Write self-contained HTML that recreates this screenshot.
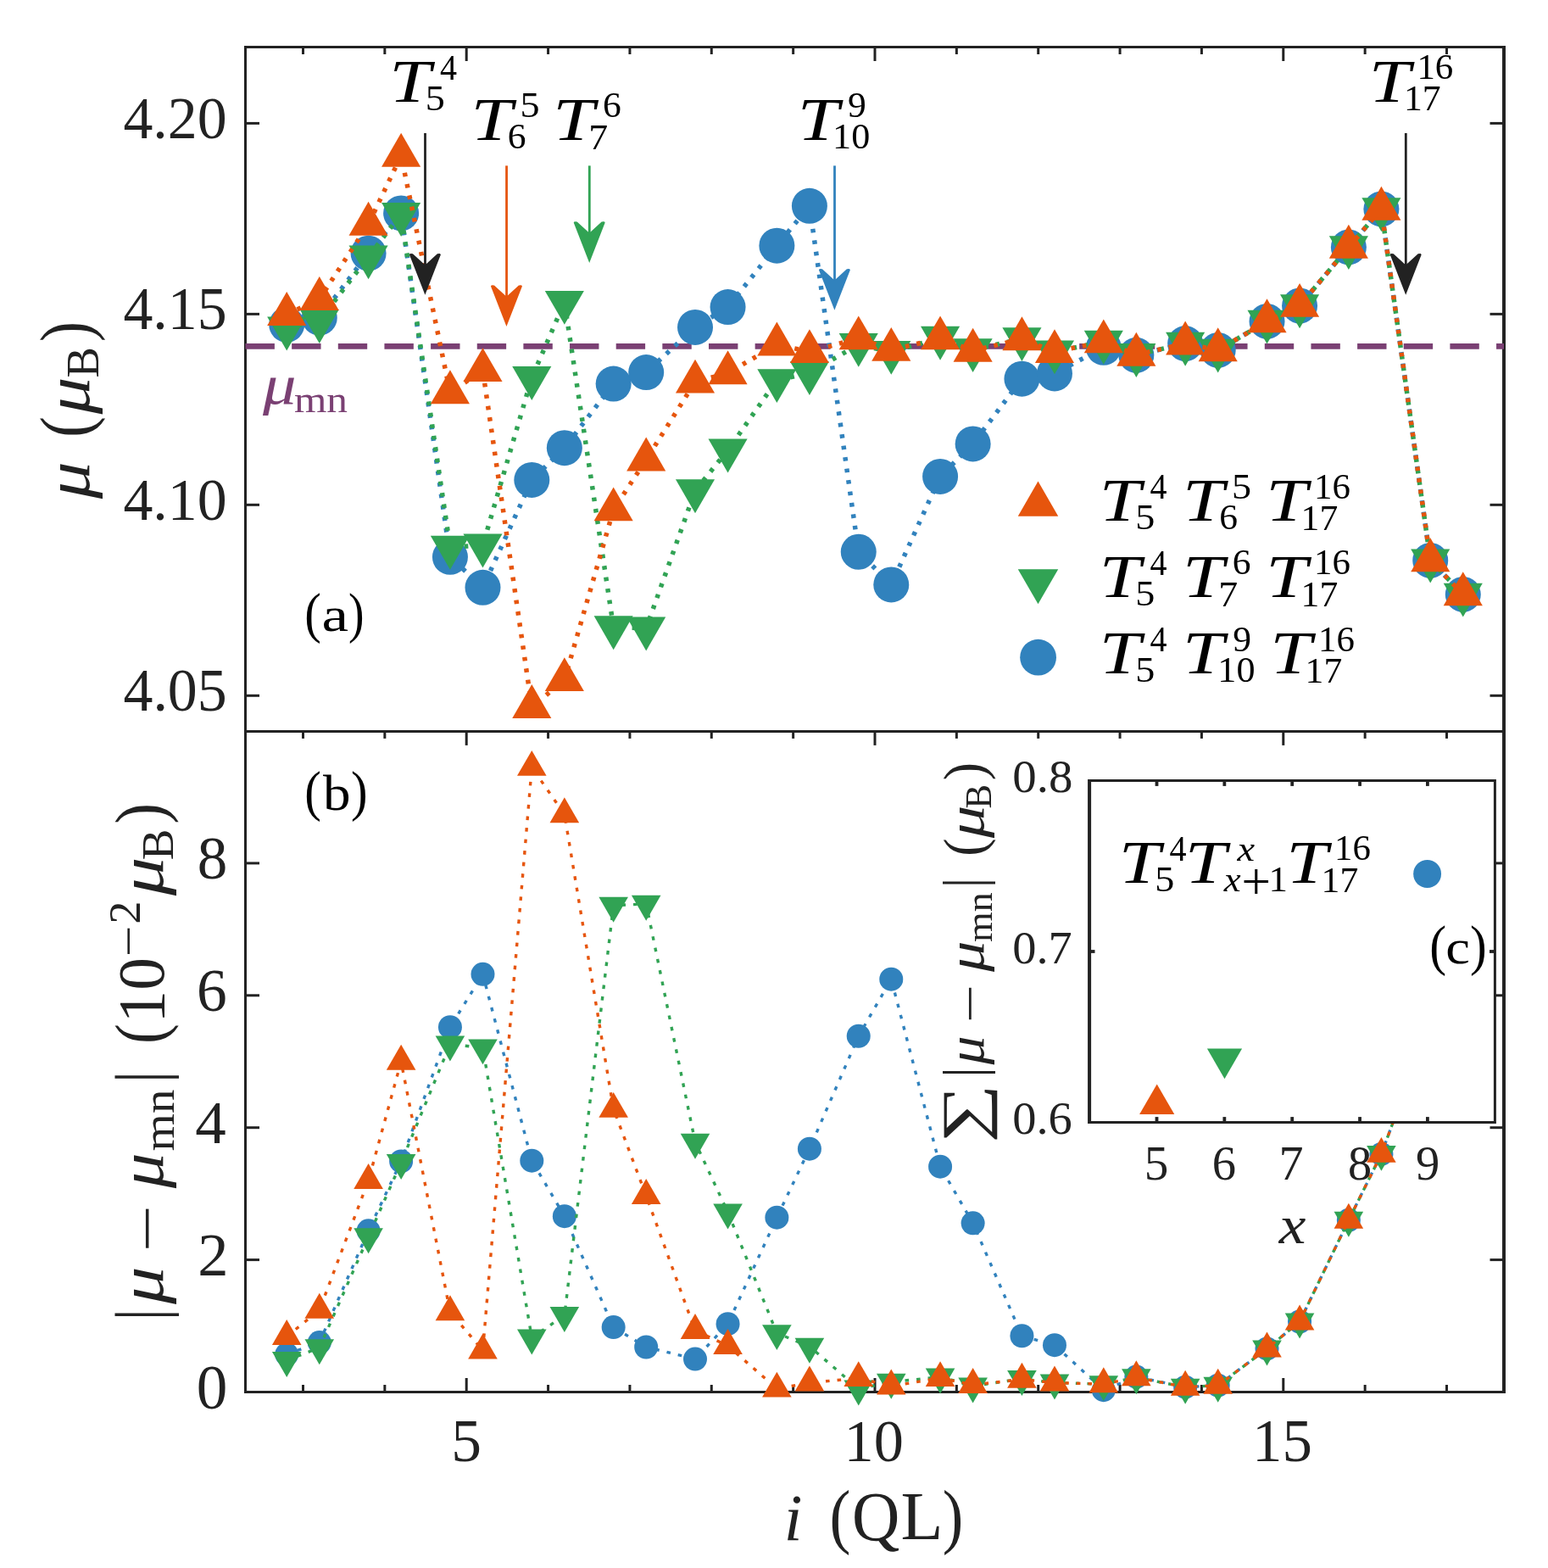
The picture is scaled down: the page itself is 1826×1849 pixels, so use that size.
<!DOCTYPE html>
<html lang="en"><head><meta charset="utf-8"><title>Magnetic moment profiles</title>
<style>html,body{margin:0;padding:0;background:#fff}svg{display:block}</style></head>
<body>
<svg width="1826" height="1849" viewBox="0 0 1826 1849" font-family="'Liberation Serif', 'DejaVu Serif', serif" style="font-kerning:none">
<rect width="1826" height="1849" fill="#ffffff"/>
<text transform="translate(1349.66 1390.74) scale(1.0000 1)" font-size="57.18" fill="#222222">5</text>
<text transform="translate(1429.84 1390.75) scale(1.0000 1)" font-size="56.56" fill="#222222">6</text>
<text transform="translate(1508.61 1391.30) scale(1.0000 1)" font-size="58.03" fill="#222222">7</text>
<text transform="translate(1589.97 1390.75) scale(1.0000 1)" font-size="56.31" fill="#222222">8</text>
<text transform="translate(1670.01 1390.75) scale(1.0000 1)" font-size="56.56" fill="#222222">9</text>
<text transform="translate(1194.23 934.41) scale(1.0198 1)" font-size="55.80" fill="#222222">0.8</text>
<text transform="translate(1194.25 1135.91) scale(1.0118 1)" font-size="55.80" fill="#222222">0.7</text>
<text transform="translate(1194.25 1337.41) scale(1.0127 1)" font-size="55.80" fill="#222222">0.6</text>
<path d="M1774.0 55.5 H289.5 V1641.5 H1774.0" fill="none" stroke="#222222" stroke-width="3" stroke-linecap="square"/>
<line x1="289.50" y1="862.40" x2="1774.00" y2="862.40" stroke="#222222" stroke-width="3"/>
<line x1="1774.00" y1="54.00" x2="1774.00" y2="1643.00" stroke="#222222" stroke-width="4"/>
<line x1="357.50" y1="55.50" x2="357.50" y2="64.00" stroke="#222222" stroke-width="3"/>
<line x1="357.50" y1="862.40" x2="357.50" y2="870.90" stroke="#222222" stroke-width="3"/>
<line x1="357.50" y1="1641.50" x2="357.50" y2="1633.00" stroke="#222222" stroke-width="3"/>
<line x1="453.86" y1="55.50" x2="453.86" y2="64.00" stroke="#222222" stroke-width="3"/>
<line x1="453.86" y1="862.40" x2="453.86" y2="870.90" stroke="#222222" stroke-width="3"/>
<line x1="453.86" y1="1641.50" x2="453.86" y2="1633.00" stroke="#222222" stroke-width="3"/>
<line x1="550.21" y1="55.50" x2="550.21" y2="72.00" stroke="#222222" stroke-width="3"/>
<line x1="550.21" y1="862.40" x2="550.21" y2="878.90" stroke="#222222" stroke-width="3"/>
<line x1="550.21" y1="1641.50" x2="550.21" y2="1625.00" stroke="#222222" stroke-width="3"/>
<line x1="646.57" y1="55.50" x2="646.57" y2="64.00" stroke="#222222" stroke-width="3"/>
<line x1="646.57" y1="862.40" x2="646.57" y2="870.90" stroke="#222222" stroke-width="3"/>
<line x1="646.57" y1="1641.50" x2="646.57" y2="1633.00" stroke="#222222" stroke-width="3"/>
<line x1="742.93" y1="55.50" x2="742.93" y2="64.00" stroke="#222222" stroke-width="3"/>
<line x1="742.93" y1="862.40" x2="742.93" y2="870.90" stroke="#222222" stroke-width="3"/>
<line x1="742.93" y1="1641.50" x2="742.93" y2="1633.00" stroke="#222222" stroke-width="3"/>
<line x1="839.28" y1="55.50" x2="839.28" y2="64.00" stroke="#222222" stroke-width="3"/>
<line x1="839.28" y1="862.40" x2="839.28" y2="870.90" stroke="#222222" stroke-width="3"/>
<line x1="839.28" y1="1641.50" x2="839.28" y2="1633.00" stroke="#222222" stroke-width="3"/>
<line x1="935.64" y1="55.50" x2="935.64" y2="64.00" stroke="#222222" stroke-width="3"/>
<line x1="935.64" y1="862.40" x2="935.64" y2="870.90" stroke="#222222" stroke-width="3"/>
<line x1="935.64" y1="1641.50" x2="935.64" y2="1633.00" stroke="#222222" stroke-width="3"/>
<line x1="1032.00" y1="55.50" x2="1032.00" y2="72.00" stroke="#222222" stroke-width="3"/>
<line x1="1032.00" y1="862.40" x2="1032.00" y2="878.90" stroke="#222222" stroke-width="3"/>
<line x1="1032.00" y1="1641.50" x2="1032.00" y2="1625.00" stroke="#222222" stroke-width="3"/>
<line x1="1128.36" y1="55.50" x2="1128.36" y2="64.00" stroke="#222222" stroke-width="3"/>
<line x1="1128.36" y1="862.40" x2="1128.36" y2="870.90" stroke="#222222" stroke-width="3"/>
<line x1="1128.36" y1="1641.50" x2="1128.36" y2="1633.00" stroke="#222222" stroke-width="3"/>
<line x1="1224.71" y1="55.50" x2="1224.71" y2="64.00" stroke="#222222" stroke-width="3"/>
<line x1="1224.71" y1="862.40" x2="1224.71" y2="870.90" stroke="#222222" stroke-width="3"/>
<line x1="1224.71" y1="1641.50" x2="1224.71" y2="1633.00" stroke="#222222" stroke-width="3"/>
<line x1="1321.07" y1="55.50" x2="1321.07" y2="64.00" stroke="#222222" stroke-width="3"/>
<line x1="1321.07" y1="862.40" x2="1321.07" y2="870.90" stroke="#222222" stroke-width="3"/>
<line x1="1321.07" y1="1641.50" x2="1321.07" y2="1633.00" stroke="#222222" stroke-width="3"/>
<line x1="1417.43" y1="55.50" x2="1417.43" y2="64.00" stroke="#222222" stroke-width="3"/>
<line x1="1417.43" y1="862.40" x2="1417.43" y2="870.90" stroke="#222222" stroke-width="3"/>
<line x1="1417.43" y1="1641.50" x2="1417.43" y2="1633.00" stroke="#222222" stroke-width="3"/>
<line x1="1513.78" y1="55.50" x2="1513.78" y2="72.00" stroke="#222222" stroke-width="3"/>
<line x1="1513.78" y1="862.40" x2="1513.78" y2="878.90" stroke="#222222" stroke-width="3"/>
<line x1="1513.78" y1="1641.50" x2="1513.78" y2="1625.00" stroke="#222222" stroke-width="3"/>
<line x1="1610.14" y1="55.50" x2="1610.14" y2="64.00" stroke="#222222" stroke-width="3"/>
<line x1="1610.14" y1="862.40" x2="1610.14" y2="870.90" stroke="#222222" stroke-width="3"/>
<line x1="1610.14" y1="1641.50" x2="1610.14" y2="1633.00" stroke="#222222" stroke-width="3"/>
<line x1="1706.50" y1="55.50" x2="1706.50" y2="64.00" stroke="#222222" stroke-width="3"/>
<line x1="1706.50" y1="862.40" x2="1706.50" y2="870.90" stroke="#222222" stroke-width="3"/>
<line x1="1706.50" y1="1641.50" x2="1706.50" y2="1633.00" stroke="#222222" stroke-width="3"/>
<line x1="289.50" y1="145.40" x2="306.00" y2="145.40" stroke="#222222" stroke-width="3"/>
<line x1="1774.00" y1="145.40" x2="1757.50" y2="145.40" stroke="#222222" stroke-width="3"/>
<line x1="289.50" y1="370.36" x2="306.00" y2="370.36" stroke="#222222" stroke-width="3"/>
<line x1="1774.00" y1="370.36" x2="1757.50" y2="370.36" stroke="#222222" stroke-width="3"/>
<line x1="289.50" y1="595.33" x2="306.00" y2="595.33" stroke="#222222" stroke-width="3"/>
<line x1="1774.00" y1="595.33" x2="1757.50" y2="595.33" stroke="#222222" stroke-width="3"/>
<line x1="289.50" y1="820.30" x2="306.00" y2="820.30" stroke="#222222" stroke-width="3"/>
<line x1="1774.00" y1="820.30" x2="1757.50" y2="820.30" stroke="#222222" stroke-width="3"/>
<line x1="289.50" y1="1485.60" x2="306.00" y2="1485.60" stroke="#222222" stroke-width="3"/>
<line x1="1774.00" y1="1485.60" x2="1757.50" y2="1485.60" stroke="#222222" stroke-width="3"/>
<line x1="289.50" y1="1329.70" x2="306.00" y2="1329.70" stroke="#222222" stroke-width="3"/>
<line x1="1774.00" y1="1329.70" x2="1757.50" y2="1329.70" stroke="#222222" stroke-width="3"/>
<line x1="289.50" y1="1173.80" x2="306.00" y2="1173.80" stroke="#222222" stroke-width="3"/>
<line x1="1774.00" y1="1173.80" x2="1757.50" y2="1173.80" stroke="#222222" stroke-width="3"/>
<line x1="289.50" y1="1017.90" x2="306.00" y2="1017.90" stroke="#222222" stroke-width="3"/>
<line x1="1774.00" y1="1017.90" x2="1757.50" y2="1017.90" stroke="#222222" stroke-width="3"/>
<line x1="289.50" y1="408.45" x2="1774.00" y2="408.45" stroke="#7a4073" stroke-width="6.8" stroke-dasharray="34.4 20.25"/>
<g id="top">
<polyline points="338.23,382.80 376.77,374.70 434.59,298.65 473.13,251.40 530.94,656.85 569.49,692.85 627.30,565.95 665.84,528.15 723.66,452.55 762.20,439.05 820.01,385.95 858.56,362.10 916.37,289.65 954.91,242.85 1012.73,650.77 1051.27,689.47 1109.08,561.90 1147.63,523.42 1205.44,446.70 1243.98,440.40 1301.80,409.80" fill="none" stroke="#3182bd" stroke-width="5.5" stroke-dasharray="4.6 9.0" stroke-dashoffset="0.00"/>
<polyline points="1301.80,409.80 1340.34,418.80 1398.16,405.07 1436.70,412.95 1494.51,378.97 1533.06,360.52 1590.87,291.45 1629.41,246.45 1687.23,660.90 1725.77,700.95" fill="none" stroke="#3182bd" stroke-width="5.5" stroke-dasharray="4.6 9.0" stroke-dashoffset="3.44"/>
<circle cx="338.23" cy="382.80" r="21.00" fill="#3182bd"/>
<circle cx="376.77" cy="374.70" r="21.00" fill="#3182bd"/>
<circle cx="434.59" cy="298.65" r="21.00" fill="#3182bd"/>
<circle cx="473.13" cy="251.40" r="21.00" fill="#3182bd"/>
<circle cx="530.94" cy="656.85" r="21.00" fill="#3182bd"/>
<circle cx="569.49" cy="692.85" r="21.00" fill="#3182bd"/>
<circle cx="627.30" cy="565.95" r="21.00" fill="#3182bd"/>
<circle cx="665.84" cy="528.15" r="21.00" fill="#3182bd"/>
<circle cx="723.66" cy="452.55" r="21.00" fill="#3182bd"/>
<circle cx="762.20" cy="439.05" r="21.00" fill="#3182bd"/>
<circle cx="820.01" cy="385.95" r="21.00" fill="#3182bd"/>
<circle cx="858.56" cy="362.10" r="21.00" fill="#3182bd"/>
<circle cx="916.37" cy="289.65" r="21.00" fill="#3182bd"/>
<circle cx="954.91" cy="242.85" r="21.00" fill="#3182bd"/>
<circle cx="1012.73" cy="650.77" r="21.00" fill="#3182bd"/>
<circle cx="1051.27" cy="689.47" r="21.00" fill="#3182bd"/>
<circle cx="1109.08" cy="561.90" r="21.00" fill="#3182bd"/>
<circle cx="1147.63" cy="523.42" r="21.00" fill="#3182bd"/>
<circle cx="1205.44" cy="446.70" r="21.00" fill="#3182bd"/>
<circle cx="1243.98" cy="440.40" r="21.00" fill="#3182bd"/>
<circle cx="1301.80" cy="409.80" r="21.00" fill="#3182bd"/>
<circle cx="1340.34" cy="418.80" r="21.00" fill="#3182bd"/>
<circle cx="1398.16" cy="405.07" r="21.00" fill="#3182bd"/>
<circle cx="1436.70" cy="412.95" r="21.00" fill="#3182bd"/>
<circle cx="1494.51" cy="378.97" r="21.00" fill="#3182bd"/>
<circle cx="1533.06" cy="360.52" r="21.00" fill="#3182bd"/>
<circle cx="1590.87" cy="291.45" r="21.00" fill="#3182bd"/>
<circle cx="1629.41" cy="246.45" r="21.00" fill="#3182bd"/>
<circle cx="1687.23" cy="660.90" r="21.00" fill="#3182bd"/>
<circle cx="1725.77" cy="700.95" r="21.00" fill="#3182bd"/>
<polyline points="338.23,386.85 376.77,378.30 434.59,302.70 473.13,252.30 530.94,645.15 569.49,642.90 627.30,445.35 665.84,356.25 723.66,739.65 762.20,740.77 820.01,578.55 858.56,530.85 916.37,448.50 954.91,439.50 1012.73,406.20 1051.27,415.20 1109.08,398.10 1147.63,412.50 1205.44,399.45 1243.98,414.75 1301.80,403.05" fill="none" stroke="#31a354" stroke-width="5.5" stroke-dasharray="4.6 9.0" stroke-dashoffset="0.00"/>
<polyline points="1301.80,403.05 1340.34,418.35 1398.16,405.07 1436.70,412.95 1494.51,378.97 1533.06,360.52 1590.87,291.45 1629.41,246.45 1687.23,660.90 1725.77,700.95" fill="none" stroke="#31a354" stroke-width="5.5" stroke-dasharray="4.6 9.0" stroke-dashoffset="11.26"/>
<polygon points="338.23,413.47 315.18,373.54 361.28,373.54" fill="#31a354"/>
<polygon points="376.77,404.92 353.72,364.99 399.82,364.99" fill="#31a354"/>
<polygon points="434.59,329.32 411.54,289.39 457.64,289.39" fill="#31a354"/>
<polygon points="473.13,278.92 450.08,238.99 496.18,238.99" fill="#31a354"/>
<polygon points="530.94,671.77 507.89,631.84 553.99,631.84" fill="#31a354"/>
<polygon points="569.49,669.52 546.44,629.59 592.54,629.59" fill="#31a354"/>
<polygon points="627.30,471.97 604.25,432.04 650.35,432.04" fill="#31a354"/>
<polygon points="665.84,382.87 642.79,342.94 688.89,342.94" fill="#31a354"/>
<polygon points="723.66,766.27 700.61,726.34 746.71,726.34" fill="#31a354"/>
<polygon points="762.20,767.39 739.15,727.47 785.25,727.47" fill="#31a354"/>
<polygon points="820.01,605.17 796.96,565.24 843.06,565.24" fill="#31a354"/>
<polygon points="858.56,557.47 835.51,517.54 881.61,517.54" fill="#31a354"/>
<polygon points="916.37,475.12 893.32,435.19 939.42,435.19" fill="#31a354"/>
<polygon points="954.91,466.12 931.86,426.19 977.96,426.19" fill="#31a354"/>
<polygon points="1012.73,432.82 989.68,392.89 1035.78,392.89" fill="#31a354"/>
<polygon points="1051.27,441.82 1028.22,401.89 1074.32,401.89" fill="#31a354"/>
<polygon points="1109.08,424.72 1086.03,384.79 1132.13,384.79" fill="#31a354"/>
<polygon points="1147.63,439.12 1124.58,399.19 1170.68,399.19" fill="#31a354"/>
<polygon points="1205.44,426.07 1182.39,386.14 1228.49,386.14" fill="#31a354"/>
<polygon points="1243.98,441.37 1220.93,401.44 1267.03,401.44" fill="#31a354"/>
<polygon points="1301.80,429.67 1278.75,389.74 1324.85,389.74" fill="#31a354"/>
<polygon points="1340.34,444.97 1317.29,405.04 1363.39,405.04" fill="#31a354"/>
<polygon points="1398.16,431.69 1375.11,391.77 1421.21,391.77" fill="#31a354"/>
<polygon points="1436.70,439.57 1413.65,399.64 1459.75,399.64" fill="#31a354"/>
<polygon points="1494.51,405.59 1471.46,365.67 1517.56,365.67" fill="#31a354"/>
<polygon points="1533.06,387.14 1510.01,347.22 1556.11,347.22" fill="#31a354"/>
<polygon points="1590.87,318.07 1567.82,278.14 1613.92,278.14" fill="#31a354"/>
<polygon points="1629.41,273.07 1606.36,233.14 1652.46,233.14" fill="#31a354"/>
<polygon points="1687.23,687.52 1664.18,647.59 1710.28,647.59" fill="#31a354"/>
<polygon points="1725.77,727.57 1702.72,687.64 1748.82,687.64" fill="#31a354"/>
<polyline points="338.23,370.65 376.77,352.65 434.59,264.45 473.13,183.45 530.94,462.90 569.49,436.80 627.30,833.70 665.84,801.75 723.66,601.05 762.20,542.10 820.01,450.30 858.56,439.95 916.37,406.20 954.91,414.75 1012.73,399.00 1051.27,412.50 1109.08,399.00 1147.63,413.40 1205.44,399.90 1243.98,414.75 1301.80,403.05" fill="none" stroke="#e6550d" stroke-width="5.5" stroke-dasharray="4.6 9.0" stroke-dashoffset="0.00"/>
<polyline points="1301.80,403.05 1340.34,418.35 1398.16,405.07 1436.70,412.95 1494.51,378.97 1533.06,360.52 1590.87,291.45 1629.41,246.45 1687.23,660.90 1725.77,700.95" fill="none" stroke="#e6550d" stroke-width="5.5" stroke-dasharray="4.6 9.0" stroke-dashoffset="0.96"/>
<polygon points="338.23,344.03 315.18,383.96 361.28,383.96" fill="#e6550d"/>
<polygon points="376.77,326.03 353.72,365.96 399.82,365.96" fill="#e6550d"/>
<polygon points="434.59,237.83 411.54,277.76 457.64,277.76" fill="#e6550d"/>
<polygon points="473.13,156.83 450.08,196.76 496.18,196.76" fill="#e6550d"/>
<polygon points="530.94,436.28 507.89,476.21 553.99,476.21" fill="#e6550d"/>
<polygon points="569.49,410.18 546.44,450.11 592.54,450.11" fill="#e6550d"/>
<polygon points="627.30,807.08 604.25,847.01 650.35,847.01" fill="#e6550d"/>
<polygon points="665.84,775.13 642.79,815.06 688.89,815.06" fill="#e6550d"/>
<polygon points="723.66,574.43 700.61,614.36 746.71,614.36" fill="#e6550d"/>
<polygon points="762.20,515.48 739.15,555.41 785.25,555.41" fill="#e6550d"/>
<polygon points="820.01,423.68 796.96,463.61 843.06,463.61" fill="#e6550d"/>
<polygon points="858.56,413.33 835.51,453.26 881.61,453.26" fill="#e6550d"/>
<polygon points="916.37,379.58 893.32,419.51 939.42,419.51" fill="#e6550d"/>
<polygon points="954.91,388.13 931.86,428.06 977.96,428.06" fill="#e6550d"/>
<polygon points="1012.73,372.38 989.68,412.31 1035.78,412.31" fill="#e6550d"/>
<polygon points="1051.27,385.88 1028.22,425.81 1074.32,425.81" fill="#e6550d"/>
<polygon points="1109.08,372.38 1086.03,412.31 1132.13,412.31" fill="#e6550d"/>
<polygon points="1147.63,386.78 1124.58,426.71 1170.68,426.71" fill="#e6550d"/>
<polygon points="1205.44,373.28 1182.39,413.21 1228.49,413.21" fill="#e6550d"/>
<polygon points="1243.98,388.13 1220.93,428.06 1267.03,428.06" fill="#e6550d"/>
<polygon points="1301.80,376.43 1278.75,416.36 1324.85,416.36" fill="#e6550d"/>
<polygon points="1340.34,391.73 1317.29,431.66 1363.39,431.66" fill="#e6550d"/>
<polygon points="1398.16,378.46 1375.11,418.38 1421.21,418.38" fill="#e6550d"/>
<polygon points="1436.70,386.33 1413.65,426.26 1459.75,426.26" fill="#e6550d"/>
<polygon points="1494.51,352.36 1471.46,392.28 1517.56,392.28" fill="#e6550d"/>
<polygon points="1533.06,333.91 1510.01,373.83 1556.11,373.83" fill="#e6550d"/>
<polygon points="1590.87,264.83 1567.82,304.76 1613.92,304.76" fill="#e6550d"/>
<polygon points="1629.41,219.83 1606.36,259.76 1652.46,259.76" fill="#e6550d"/>
<polygon points="1687.23,634.28 1664.18,674.21 1710.28,674.21" fill="#e6550d"/>
<polygon points="1725.77,674.33 1702.72,714.26 1748.82,714.26" fill="#e6550d"/>
</g>
<g id="bot">
<polyline points="338.23,1597.07 376.77,1583.04 434.59,1451.30 473.13,1369.45 530.94,1211.22 569.49,1148.86 627.30,1368.67 665.84,1434.15 723.66,1565.11 762.20,1588.49 820.01,1602.53 858.56,1561.21 916.37,1435.71 954.91,1354.64 1012.73,1221.74 1051.27,1154.70 1109.08,1375.69 1147.63,1442.34 1205.44,1575.24 1243.98,1586.16 1301.80,1639.16" fill="none" stroke="#3182bd" stroke-width="3.4" stroke-dasharray="4.6 9.0" stroke-dashoffset="0.00"/>
<polyline points="1301.80,1639.16 1340.34,1623.57 1398.16,1635.65 1436.70,1633.70 1494.51,1590.44 1533.06,1558.48 1590.87,1438.83 1629.41,1360.88 1687.23,1204.20 1725.77,1134.83" fill="none" stroke="#3182bd" stroke-width="3.4" stroke-dasharray="4.6 9.0" stroke-dashoffset="10.00"/>
<circle cx="338.23" cy="1597.07" r="14.00" fill="#3182bd"/>
<circle cx="376.77" cy="1583.04" r="14.00" fill="#3182bd"/>
<circle cx="434.59" cy="1451.30" r="14.00" fill="#3182bd"/>
<circle cx="473.13" cy="1369.45" r="14.00" fill="#3182bd"/>
<circle cx="530.94" cy="1211.22" r="14.00" fill="#3182bd"/>
<circle cx="569.49" cy="1148.86" r="14.00" fill="#3182bd"/>
<circle cx="627.30" cy="1368.67" r="14.00" fill="#3182bd"/>
<circle cx="665.84" cy="1434.15" r="14.00" fill="#3182bd"/>
<circle cx="723.66" cy="1565.11" r="14.00" fill="#3182bd"/>
<circle cx="762.20" cy="1588.49" r="14.00" fill="#3182bd"/>
<circle cx="820.01" cy="1602.53" r="14.00" fill="#3182bd"/>
<circle cx="858.56" cy="1561.21" r="14.00" fill="#3182bd"/>
<circle cx="916.37" cy="1435.71" r="14.00" fill="#3182bd"/>
<circle cx="954.91" cy="1354.64" r="14.00" fill="#3182bd"/>
<circle cx="1012.73" cy="1221.74" r="14.00" fill="#3182bd"/>
<circle cx="1051.27" cy="1154.70" r="14.00" fill="#3182bd"/>
<circle cx="1109.08" cy="1375.69" r="14.00" fill="#3182bd"/>
<circle cx="1147.63" cy="1442.34" r="14.00" fill="#3182bd"/>
<circle cx="1205.44" cy="1575.24" r="14.00" fill="#3182bd"/>
<circle cx="1243.98" cy="1586.16" r="14.00" fill="#3182bd"/>
<circle cx="1301.80" cy="1639.16" r="14.00" fill="#3182bd"/>
<circle cx="1340.34" cy="1623.57" r="14.00" fill="#3182bd"/>
<circle cx="1398.16" cy="1635.65" r="14.00" fill="#3182bd"/>
<circle cx="1436.70" cy="1633.70" r="14.00" fill="#3182bd"/>
<circle cx="1494.51" cy="1590.44" r="14.00" fill="#3182bd"/>
<circle cx="1533.06" cy="1558.48" r="14.00" fill="#3182bd"/>
<circle cx="1590.87" cy="1438.83" r="14.00" fill="#3182bd"/>
<circle cx="1629.41" cy="1360.88" r="14.00" fill="#3182bd"/>
<circle cx="1687.23" cy="1204.20" r="14.00" fill="#3182bd"/>
<circle cx="1725.77" cy="1134.83" r="14.00" fill="#3182bd"/>
<polyline points="338.23,1604.08 376.77,1589.27 434.59,1458.32 473.13,1371.01 530.94,1231.48 569.49,1235.38 627.30,1577.58 665.84,1551.08 723.66,1067.79 762.20,1065.84 820.01,1346.85 858.56,1429.48 916.37,1572.12 954.91,1587.71 1012.73,1637.60 1051.27,1629.81 1109.08,1623.57 1147.63,1634.48 1205.44,1625.91 1243.98,1630.59 1301.80,1632.15" fill="none" stroke="#31a354" stroke-width="3.4" stroke-dasharray="4.6 9.0" stroke-dashoffset="0.00"/>
<polyline points="1301.80,1632.15 1340.34,1624.35 1398.16,1635.65 1436.70,1633.70 1494.51,1590.44 1533.06,1558.48 1590.87,1438.83 1629.41,1360.88 1687.23,1204.20 1725.77,1134.83" fill="none" stroke="#31a354" stroke-width="3.4" stroke-dasharray="4.6 9.0" stroke-dashoffset="3.81"/>
<polygon points="338.23,1624.06 320.93,1594.10 355.53,1594.10" fill="#31a354"/>
<polygon points="376.77,1609.25 359.47,1579.29 394.07,1579.29" fill="#31a354"/>
<polygon points="434.59,1478.29 417.29,1448.33 451.89,1448.33" fill="#31a354"/>
<polygon points="473.13,1390.99 455.83,1361.03 490.43,1361.03" fill="#31a354"/>
<polygon points="530.94,1251.46 513.64,1221.49 548.24,1221.49" fill="#31a354"/>
<polygon points="569.49,1255.36 552.19,1225.39 586.79,1225.39" fill="#31a354"/>
<polygon points="627.30,1597.56 610.00,1567.59 644.60,1567.59" fill="#31a354"/>
<polygon points="665.84,1571.05 648.54,1541.09 683.14,1541.09" fill="#31a354"/>
<polygon points="723.66,1087.76 706.36,1057.80 740.96,1057.80" fill="#31a354"/>
<polygon points="762.20,1085.82 744.90,1055.85 779.50,1055.85" fill="#31a354"/>
<polygon points="820.01,1366.83 802.71,1336.86 837.31,1336.86" fill="#31a354"/>
<polygon points="858.56,1449.45 841.26,1419.49 875.86,1419.49" fill="#31a354"/>
<polygon points="916.37,1592.10 899.07,1562.14 933.67,1562.14" fill="#31a354"/>
<polygon points="954.91,1607.69 937.61,1577.73 972.21,1577.73" fill="#31a354"/>
<polygon points="1012.73,1657.58 995.43,1627.61 1030.03,1627.61" fill="#31a354"/>
<polygon points="1051.27,1649.78 1033.97,1619.82 1068.57,1619.82" fill="#31a354"/>
<polygon points="1109.08,1643.55 1091.78,1613.58 1126.38,1613.58" fill="#31a354"/>
<polygon points="1147.63,1654.46 1130.33,1624.50 1164.93,1624.50" fill="#31a354"/>
<polygon points="1205.44,1645.89 1188.14,1615.92 1222.74,1615.92" fill="#31a354"/>
<polygon points="1243.98,1650.56 1226.68,1620.60 1261.28,1620.60" fill="#31a354"/>
<polygon points="1301.80,1652.12 1284.50,1622.16 1319.10,1622.16" fill="#31a354"/>
<polygon points="1340.34,1644.33 1323.04,1614.36 1357.64,1614.36" fill="#31a354"/>
<polygon points="1398.16,1655.63 1380.86,1625.67 1415.46,1625.67" fill="#31a354"/>
<polygon points="1436.70,1653.68 1419.40,1623.72 1454.00,1623.72" fill="#31a354"/>
<polygon points="1494.51,1610.42 1477.21,1580.45 1511.81,1580.45" fill="#31a354"/>
<polygon points="1533.06,1578.46 1515.76,1548.50 1550.36,1548.50" fill="#31a354"/>
<polygon points="1590.87,1458.81 1573.57,1428.84 1608.17,1428.84" fill="#31a354"/>
<polygon points="1629.41,1380.86 1612.11,1350.89 1646.71,1350.89" fill="#31a354"/>
<polygon points="1687.23,1224.18 1669.93,1194.21 1704.53,1194.21" fill="#31a354"/>
<polygon points="1725.77,1154.80 1708.47,1124.84 1743.07,1124.84" fill="#31a354"/>
<polyline points="338.23,1576.02 376.77,1544.84 434.59,1392.06 473.13,1251.75 530.94,1547.18 569.49,1592.39 627.30,904.87 665.84,960.22 723.66,1307.87 762.20,1409.99 820.01,1569.01 858.56,1586.93 916.37,1637.60 954.91,1630.59 1012.73,1625.13 1051.27,1634.48 1109.08,1625.13 1147.63,1632.93 1205.44,1626.69 1243.98,1630.59 1301.80,1632.15" fill="none" stroke="#e6550d" stroke-width="3.4" stroke-dasharray="4.6 9.0" stroke-dashoffset="0.00"/>
<polyline points="1301.80,1632.15 1340.34,1624.35 1398.16,1635.65 1436.70,1633.70 1494.51,1590.44 1533.06,1558.48 1590.87,1438.83 1629.41,1360.88 1687.23,1204.20 1725.77,1134.83" fill="none" stroke="#e6550d" stroke-width="3.4" stroke-dasharray="4.6 9.0" stroke-dashoffset="0.81"/>
<polygon points="338.23,1556.05 320.93,1586.01 355.53,1586.01" fill="#e6550d"/>
<polygon points="376.77,1524.87 359.47,1554.83 394.07,1554.83" fill="#e6550d"/>
<polygon points="434.59,1372.08 417.29,1402.05 451.89,1402.05" fill="#e6550d"/>
<polygon points="473.13,1231.77 455.83,1261.74 490.43,1261.74" fill="#e6550d"/>
<polygon points="530.94,1527.20 513.64,1557.17 548.24,1557.17" fill="#e6550d"/>
<polygon points="569.49,1572.42 552.19,1602.38 586.79,1602.38" fill="#e6550d"/>
<polygon points="627.30,884.90 610.00,914.86 644.60,914.86" fill="#e6550d"/>
<polygon points="665.84,940.24 648.54,970.21 683.14,970.21" fill="#e6550d"/>
<polygon points="723.66,1287.90 706.36,1317.86 740.96,1317.86" fill="#e6550d"/>
<polygon points="762.20,1390.01 744.90,1419.98 779.50,1419.98" fill="#e6550d"/>
<polygon points="820.01,1549.03 802.71,1578.99 837.31,1578.99" fill="#e6550d"/>
<polygon points="858.56,1566.96 841.26,1596.92 875.86,1596.92" fill="#e6550d"/>
<polygon points="916.37,1617.63 899.07,1647.59 933.67,1647.59" fill="#e6550d"/>
<polygon points="954.91,1610.61 937.61,1640.58 972.21,1640.58" fill="#e6550d"/>
<polygon points="1012.73,1605.15 995.43,1635.12 1030.03,1635.12" fill="#e6550d"/>
<polygon points="1051.27,1614.51 1033.97,1644.47 1068.57,1644.47" fill="#e6550d"/>
<polygon points="1109.08,1605.15 1091.78,1635.12 1126.38,1635.12" fill="#e6550d"/>
<polygon points="1147.63,1612.95 1130.33,1642.91 1164.93,1642.91" fill="#e6550d"/>
<polygon points="1205.44,1606.71 1188.14,1636.68 1222.74,1636.68" fill="#e6550d"/>
<polygon points="1243.98,1610.61 1226.68,1640.58 1261.28,1640.58" fill="#e6550d"/>
<polygon points="1301.80,1612.17 1284.50,1642.13 1319.10,1642.13" fill="#e6550d"/>
<polygon points="1340.34,1604.37 1323.04,1634.34 1357.64,1634.34" fill="#e6550d"/>
<polygon points="1398.16,1615.68 1380.86,1645.64 1415.46,1645.64" fill="#e6550d"/>
<polygon points="1436.70,1613.73 1419.40,1643.69 1454.00,1643.69" fill="#e6550d"/>
<polygon points="1494.51,1570.47 1477.21,1600.43 1511.81,1600.43" fill="#e6550d"/>
<polygon points="1533.06,1538.51 1515.76,1568.47 1550.36,1568.47" fill="#e6550d"/>
<polygon points="1590.87,1418.85 1573.57,1448.82 1608.17,1448.82" fill="#e6550d"/>
<polygon points="1629.41,1340.90 1612.11,1370.87 1646.71,1370.87" fill="#e6550d"/>
<polygon points="1687.23,1184.22 1669.93,1214.19 1704.53,1214.19" fill="#e6550d"/>
<polygon points="1725.77,1114.85 1708.47,1144.81 1743.07,1144.81" fill="#e6550d"/>
</g>
<text transform="translate(145.44 162.70) scale(0.9862 1)" font-size="70.82" fill="#222222">4.20</text>
<text transform="translate(145.44 387.65) scale(0.9797 1)" font-size="71.33" fill="#222222">4.15</text>
<text transform="translate(145.44 612.63) scale(0.9862 1)" font-size="70.82" fill="#222222">4.10</text>
<text transform="translate(145.44 837.59) scale(0.9868 1)" font-size="70.82" fill="#222222">4.05</text>
<text transform="translate(231.68 1660.79) scale(1.0000 1)" font-size="73.21" fill="#222222">0</text>
<text transform="translate(233.25 1504.20) scale(1.0000 1)" font-size="72.50" fill="#222222">2</text>
<text transform="translate(230.18 1348.30) scale(1.0000 1)" font-size="72.93" fill="#222222">4</text>
<text transform="translate(231.91 1191.70) scale(1.0000 1)" font-size="71.44" fill="#222222">6</text>
<text transform="translate(232.64 1035.81) scale(1.0000 1)" font-size="71.13" fill="#222222">8</text>
<text transform="translate(532.16 1723.30) scale(1.0000 1)" font-size="71.48" fill="#222222">5</text>
<text transform="translate(995.55 1723.31) scale(1.0000 1)" font-size="70.39" fill="#222222">10</text>
<text transform="translate(1477.10 1723.31) scale(1.0000 1)" font-size="70.90" fill="#222222">15</text>
<text transform="rotate(-90)" fill="#222222"><tspan x="-588.31" y="105.11" font-size="74.31" font-style="italic" textLength="43.92" lengthAdjust="spacingAndGlyphs">μ</tspan> <tspan x="-515.73" y="106.16" font-size="83.82" textLength="24.51" lengthAdjust="spacingAndGlyphs">(</tspan><tspan x="-488.61" y="105.11" font-size="74.31" font-style="italic" textLength="43.92" lengthAdjust="spacingAndGlyphs">μ</tspan><tspan x="-445.38" y="116.14" font-size="55.65" textLength="36.55" lengthAdjust="spacingAndGlyphs">B</tspan><tspan x="-403.11" y="106.16" font-size="83.82" textLength="23.86" lengthAdjust="spacingAndGlyphs">)</tspan></text>
<text transform="rotate(-90)" fill="#222222"><tspan x="-1557.28" y="193.04" font-size="83.22" textLength="14.07" lengthAdjust="spacingAndGlyphs">|</tspan><tspan x="-1537.91" y="192.37" font-size="74.01" font-style="italic" textLength="44.35" lengthAdjust="spacingAndGlyphs">μ</tspan> <tspan x="-1476.53" y="196.58" font-size="70.27" textLength="55.87" lengthAdjust="spacingAndGlyphs">−</tspan> <tspan x="-1401.22" y="192.37" font-size="74.01" font-style="italic" textLength="41.68" lengthAdjust="spacingAndGlyphs">μ</tspan><tspan x="-1357.40" y="204.50" font-size="51.78" textLength="72.76" lengthAdjust="spacingAndGlyphs">mn</tspan><tspan x="-1276.98" y="193.04" font-size="83.22" textLength="14.07" lengthAdjust="spacingAndGlyphs">|</tspan> <tspan x="-1231.05" y="193.23" font-size="83.49" textLength="23.86" lengthAdjust="spacingAndGlyphs">(</tspan><tspan x="-1206.62" y="192.74" font-size="77.65" textLength="77.57" lengthAdjust="spacingAndGlyphs">10</tspan><tspan x="-1128.34" y="169.43" font-size="52.20" textLength="36.72" lengthAdjust="spacingAndGlyphs">−</tspan><tspan x="-1089.57" y="164.90" font-size="52.26" textLength="26.94" lengthAdjust="spacingAndGlyphs">2</tspan><tspan x="-1056.21" y="192.37" font-size="74.01" font-style="italic" textLength="45.63" lengthAdjust="spacingAndGlyphs">μ</tspan><tspan x="-1014.19" y="203.74" font-size="53.37" textLength="36.78" lengthAdjust="spacingAndGlyphs">B</tspan><tspan x="-971.70" y="193.23" font-size="83.49" textLength="24.76" lengthAdjust="spacingAndGlyphs">)</tspan></text>
<text fill="#222222"><tspan x="924.66" y="1815.90" font-size="78.08" font-style="italic" textLength="21.69" lengthAdjust="spacingAndGlyphs">i</tspan> <tspan x="978.61" y="1815.87" font-size="85.14" textLength="24.89" lengthAdjust="spacingAndGlyphs">(</tspan><tspan x="1004.90" y="1815.70" font-size="82.02" textLength="56.33" lengthAdjust="spacingAndGlyphs">Q</tspan><tspan x="1062.44" y="1815.10" font-size="81.10" textLength="49.97" lengthAdjust="spacingAndGlyphs">L</tspan><tspan x="1111.73" y="1815.87" font-size="85.14" textLength="24.51" lengthAdjust="spacingAndGlyphs">)</tspan></text>
<text transform="rotate(-90)" fill="#222222"><tspan x="-1347.79" y="1161.22" font-size="72.72" textLength="69.72" lengthAdjust="spacingAndGlyphs">∑</tspan><tspan x="-1270.53" y="1160.24" font-size="67.94" textLength="12.06" lengthAdjust="spacingAndGlyphs">|</tspan><tspan x="-1255.63" y="1160.18" font-size="61.83" font-style="italic" textLength="33.98" lengthAdjust="spacingAndGlyphs">μ</tspan> <tspan x="-1206.31" y="1162.57" font-size="56.22" textLength="45.45" lengthAdjust="spacingAndGlyphs">−</tspan> <tspan x="-1146.13" y="1160.18" font-size="61.83" font-style="italic" textLength="36.33" lengthAdjust="spacingAndGlyphs">μ</tspan><tspan x="-1110.96" y="1169.70" font-size="43.29" textLength="58.66" lengthAdjust="spacingAndGlyphs">mn</tspan><tspan x="-1047.03" y="1160.24" font-size="67.94" textLength="12.06" lengthAdjust="spacingAndGlyphs">|</tspan> <tspan x="-1009.81" y="1160.39" font-size="68.16" textLength="21.26" lengthAdjust="spacingAndGlyphs">(</tspan><tspan x="-988.32" y="1160.18" font-size="61.83" font-style="italic" textLength="38.58" lengthAdjust="spacingAndGlyphs">μ</tspan><tspan x="-953.53" y="1168.87" font-size="43.33" textLength="28.52" lengthAdjust="spacingAndGlyphs">B</tspan><tspan x="-920.36" y="1160.39" font-size="68.16" textLength="21.26" lengthAdjust="spacingAndGlyphs">)</tspan></text>
<text transform="translate(1508.87 1465.80) scale(1.1326 1)" font-size="62.97" font-style="italic" fill="#222222">x</text>
<text fill="#000000"><tspan x="459.26" y="119.50" font-size="71.47" font-style="italic" textLength="48.76" lengthAdjust="spacingAndGlyphs">T</tspan><tspan x="519.02" y="93.60" font-size="42.54" textLength="20.01" lengthAdjust="spacingAndGlyphs">4</tspan><tspan x="501.72" y="129.89" font-size="42.13" textLength="23.09" lengthAdjust="spacingAndGlyphs">5</tspan></text>
<text fill="#000000"><tspan x="555.56" y="164.80" font-size="71.47" font-style="italic" textLength="48.76" lengthAdjust="spacingAndGlyphs">T</tspan><tspan x="613.42" y="138.49" font-size="42.13" textLength="23.09" lengthAdjust="spacingAndGlyphs">5</tspan><tspan x="598.83" y="175.19" font-size="41.67" textLength="21.77" lengthAdjust="spacingAndGlyphs">6</tspan></text>
<text fill="#000000"><tspan x="652.26" y="164.80" font-size="71.47" font-style="italic" textLength="48.76" lengthAdjust="spacingAndGlyphs">T</tspan><tspan x="710.93" y="138.49" font-size="41.67" textLength="21.77" lengthAdjust="spacingAndGlyphs">6</tspan><tspan x="694.37" y="175.60" font-size="42.76" textLength="22.95" lengthAdjust="spacingAndGlyphs">7</tspan></text>
<text fill="#000000"><tspan x="940.86" y="164.80" font-size="71.47" font-style="italic" textLength="48.76" lengthAdjust="spacingAndGlyphs">T</tspan><tspan x="1000.00" y="138.49" font-size="41.67" textLength="21.79" lengthAdjust="spacingAndGlyphs">9</tspan><tspan x="982.12" y="175.19" font-size="41.49" textLength="44.16" lengthAdjust="spacingAndGlyphs">10</tspan></text>
<text fill="#000000"><tspan x="1614.66" y="119.50" font-size="71.47" font-style="italic" textLength="48.76" lengthAdjust="spacingAndGlyphs">T</tspan><tspan x="1671.43" y="93.19" font-size="41.67" textLength="42.84" lengthAdjust="spacingAndGlyphs">16</tspan><tspan x="1655.96" y="130.30" font-size="42.41" textLength="43.70" lengthAdjust="spacingAndGlyphs">17</tspan></text>
<line x1="501.50" y1="157.00" x2="501.50" y2="317.80" stroke="#222222" stroke-width="2.8"/>
<polygon points="501.40,347.80 482.90,300.30 483.90,299.00 486.90,299.30 501.40,312.50 515.90,299.30 518.90,299.00 519.90,300.30" fill="#222222"/>
<line x1="597.55" y1="195.40" x2="597.55" y2="355.00" stroke="#e6550d" stroke-width="2.8"/>
<polygon points="597.45,385.00 578.95,337.50 579.95,336.20 582.95,336.50 597.45,349.70 611.95,336.50 614.95,336.20 615.95,337.50" fill="#e6550d"/>
<line x1="695.30" y1="195.40" x2="695.30" y2="280.00" stroke="#31a354" stroke-width="2.8"/>
<polygon points="695.20,310.00 676.70,262.50 677.70,261.20 680.70,261.50 695.20,274.70 709.70,261.50 712.70,261.20 713.70,262.50" fill="#31a354"/>
<line x1="984.50" y1="195.40" x2="984.50" y2="335.70" stroke="#3182bd" stroke-width="2.8"/>
<polygon points="984.40,365.70 965.90,318.20 966.90,316.90 969.90,317.20 984.40,330.40 998.90,317.20 1001.90,316.90 1002.90,318.20" fill="#3182bd"/>
<line x1="1658.30" y1="157.00" x2="1658.30" y2="317.80" stroke="#222222" stroke-width="2.8"/>
<polygon points="1658.20,347.80 1639.70,300.30 1640.70,299.00 1643.70,299.30 1658.20,312.50 1672.70,299.30 1675.70,299.00 1676.70,300.30" fill="#222222"/>
<text fill="#000000"><tspan x="359.32" y="745.02" font-size="65.18" textLength="19.58" lengthAdjust="spacingAndGlyphs">(</tspan><tspan x="379.60" y="744.45" font-size="56.37" textLength="31.57" lengthAdjust="spacingAndGlyphs">a</tspan><tspan x="411.11" y="745.02" font-size="65.18" textLength="18.54" lengthAdjust="spacingAndGlyphs">)</tspan></text>
<text fill="#000000"><tspan x="359.32" y="955.02" font-size="65.18" textLength="19.58" lengthAdjust="spacingAndGlyphs">(</tspan><tspan x="380.90" y="955.32" font-size="59.55" textLength="32.58" lengthAdjust="spacingAndGlyphs">b</tspan><tspan x="414.11" y="955.02" font-size="65.18" textLength="19.58" lengthAdjust="spacingAndGlyphs">)</tspan></text>
<text fill="#7a4073"><tspan x="310.08" y="476.09" font-size="65.99" font-style="italic" textLength="39.54" lengthAdjust="spacingAndGlyphs">μ</tspan><tspan x="346.96" y="485.90" font-size="44.57" textLength="63.08" lengthAdjust="spacingAndGlyphs">mn</tspan></text>
<polygon points="1224.50,567.58 1200.75,608.71 1248.25,608.71" fill="#e6550d"/>
<polygon points="1224.50,712.32 1200.75,671.19 1248.25,671.19" fill="#31a354"/>
<circle cx="1224.60" cy="775.20" r="21.40" fill="#3182bd"/>
<text fill="#000000"><tspan x="1296.86" y="613.90" font-size="71.47" font-style="italic" textLength="48.76" lengthAdjust="spacingAndGlyphs">T</tspan><tspan x="1356.62" y="588.00" font-size="42.54" textLength="20.01" lengthAdjust="spacingAndGlyphs">4</tspan><tspan x="1339.32" y="624.29" font-size="42.13" textLength="23.09" lengthAdjust="spacingAndGlyphs">5</tspan> <tspan x="1395.06" y="613.90" font-size="71.47" font-style="italic" textLength="48.76" lengthAdjust="spacingAndGlyphs">T</tspan><tspan x="1452.92" y="587.59" font-size="42.13" textLength="23.09" lengthAdjust="spacingAndGlyphs">5</tspan><tspan x="1438.33" y="624.29" font-size="41.67" textLength="21.77" lengthAdjust="spacingAndGlyphs">6</tspan> <tspan x="1493.26" y="613.90" font-size="71.47" font-style="italic" textLength="48.76" lengthAdjust="spacingAndGlyphs">T</tspan><tspan x="1550.03" y="587.59" font-size="41.67" textLength="42.84" lengthAdjust="spacingAndGlyphs">16</tspan><tspan x="1534.56" y="624.70" font-size="42.41" textLength="43.70" lengthAdjust="spacingAndGlyphs">17</tspan></text>
<text fill="#000000"><tspan x="1296.86" y="703.70" font-size="71.47" font-style="italic" textLength="48.76" lengthAdjust="spacingAndGlyphs">T</tspan><tspan x="1356.62" y="677.80" font-size="42.54" textLength="20.01" lengthAdjust="spacingAndGlyphs">4</tspan><tspan x="1339.32" y="714.09" font-size="42.13" textLength="23.09" lengthAdjust="spacingAndGlyphs">5</tspan> <tspan x="1395.06" y="703.70" font-size="71.47" font-style="italic" textLength="48.76" lengthAdjust="spacingAndGlyphs">T</tspan><tspan x="1453.73" y="677.39" font-size="41.67" textLength="21.77" lengthAdjust="spacingAndGlyphs">6</tspan><tspan x="1437.17" y="714.50" font-size="42.76" textLength="22.95" lengthAdjust="spacingAndGlyphs">7</tspan> <tspan x="1493.26" y="703.70" font-size="71.47" font-style="italic" textLength="48.76" lengthAdjust="spacingAndGlyphs">T</tspan><tspan x="1550.03" y="677.39" font-size="41.67" textLength="42.84" lengthAdjust="spacingAndGlyphs">16</tspan><tspan x="1534.56" y="714.50" font-size="42.41" textLength="43.70" lengthAdjust="spacingAndGlyphs">17</tspan></text>
<text fill="#000000"><tspan x="1296.86" y="794.00" font-size="71.47" font-style="italic" textLength="48.76" lengthAdjust="spacingAndGlyphs">T</tspan><tspan x="1356.62" y="768.10" font-size="42.54" textLength="20.01" lengthAdjust="spacingAndGlyphs">4</tspan><tspan x="1339.32" y="804.39" font-size="42.13" textLength="23.09" lengthAdjust="spacingAndGlyphs">5</tspan> <tspan x="1395.06" y="794.00" font-size="71.47" font-style="italic" textLength="48.76" lengthAdjust="spacingAndGlyphs">T</tspan><tspan x="1454.20" y="767.69" font-size="41.67" textLength="21.79" lengthAdjust="spacingAndGlyphs">9</tspan><tspan x="1436.32" y="804.39" font-size="41.49" textLength="44.16" lengthAdjust="spacingAndGlyphs">10</tspan> <tspan x="1498.26" y="794.00" font-size="71.47" font-style="italic" textLength="48.76" lengthAdjust="spacingAndGlyphs">T</tspan><tspan x="1555.03" y="767.69" font-size="41.67" textLength="42.84" lengthAdjust="spacingAndGlyphs">16</tspan><tspan x="1539.56" y="804.80" font-size="42.41" textLength="43.70" lengthAdjust="spacingAndGlyphs">17</tspan></text>
<rect x="1285.1" y="920.5" width="478.3000000000002" height="403.0" fill="#ffffff" stroke="#222222" stroke-width="3"/>
<line x1="1285.10" y1="919.00" x2="1285.10" y2="1325.00" stroke="#222222" stroke-width="4"/>
<line x1="1364.50" y1="920.50" x2="1364.50" y2="926.90" stroke="#222222" stroke-width="3.8"/>
<line x1="1364.50" y1="1323.50" x2="1364.50" y2="1317.10" stroke="#222222" stroke-width="3.8"/>
<line x1="1444.35" y1="920.50" x2="1444.35" y2="926.90" stroke="#222222" stroke-width="3.8"/>
<line x1="1444.35" y1="1323.50" x2="1444.35" y2="1317.10" stroke="#222222" stroke-width="3.8"/>
<line x1="1524.20" y1="920.50" x2="1524.20" y2="926.90" stroke="#222222" stroke-width="3.8"/>
<line x1="1524.20" y1="1323.50" x2="1524.20" y2="1317.10" stroke="#222222" stroke-width="3.8"/>
<line x1="1604.05" y1="920.50" x2="1604.05" y2="926.90" stroke="#222222" stroke-width="3.8"/>
<line x1="1604.05" y1="1323.50" x2="1604.05" y2="1317.10" stroke="#222222" stroke-width="3.8"/>
<line x1="1683.90" y1="920.50" x2="1683.90" y2="926.90" stroke="#222222" stroke-width="3.8"/>
<line x1="1683.90" y1="1323.50" x2="1683.90" y2="1317.10" stroke="#222222" stroke-width="3.8"/>
<line x1="1285.10" y1="1122.00" x2="1291.50" y2="1122.00" stroke="#222222" stroke-width="3.8"/>
<line x1="1763.40" y1="1122.00" x2="1757.00" y2="1122.00" stroke="#222222" stroke-width="3.8"/>
<polygon points="1364.70,1278.41 1344.10,1314.09 1385.30,1314.09" fill="#e6550d"/>
<polygon points="1444.50,1272.19 1423.90,1236.51 1465.10,1236.51" fill="#31a354"/>
<circle cx="1683.60" cy="1030.50" r="16.45" fill="#3182bd"/>
<text fill="#000000"><tspan x="1319.86" y="1040.70" font-size="71.47" font-style="italic" textLength="48.76" lengthAdjust="spacingAndGlyphs">T</tspan><tspan x="1379.62" y="1014.80" font-size="42.54" textLength="20.01" lengthAdjust="spacingAndGlyphs">4</tspan><tspan x="1362.32" y="1051.09" font-size="42.13" textLength="23.09" lengthAdjust="spacingAndGlyphs">5</tspan><tspan x="1397.66" y="1040.70" font-size="71.47" font-style="italic" textLength="48.76" lengthAdjust="spacingAndGlyphs">T</tspan><tspan x="1459.47" y="1014.50" font-size="42.05" font-style="italic" textLength="20.57" lengthAdjust="spacingAndGlyphs">x</tspan><tspan x="1443.65" y="1050.90" font-size="42.92" font-style="italic" textLength="19.88" lengthAdjust="spacingAndGlyphs">x</tspan><tspan x="1464.55" y="1060.26" font-size="61.18" textLength="34.54" lengthAdjust="spacingAndGlyphs">+</tspan><tspan x="1496.56" y="1050.90" font-size="43.17" textLength="22.44" lengthAdjust="spacingAndGlyphs">1</tspan><tspan x="1517.26" y="1040.70" font-size="71.47" font-style="italic" textLength="48.76" lengthAdjust="spacingAndGlyphs">T</tspan><tspan x="1574.03" y="1014.39" font-size="41.67" textLength="42.84" lengthAdjust="spacingAndGlyphs">16</tspan><tspan x="1558.56" y="1051.50" font-size="42.41" textLength="43.70" lengthAdjust="spacingAndGlyphs">17</tspan></text>
<text fill="#000000"><tspan x="1686.28" y="1137.10" font-size="65.29" textLength="19.84" lengthAdjust="spacingAndGlyphs">(</tspan><tspan x="1705.33" y="1136.45" font-size="56.35" textLength="28.76" lengthAdjust="spacingAndGlyphs">c</tspan><tspan x="1733.99" y="1137.10" font-size="65.29" textLength="19.71" lengthAdjust="spacingAndGlyphs">)</tspan></text>
</svg>
</body></html>
